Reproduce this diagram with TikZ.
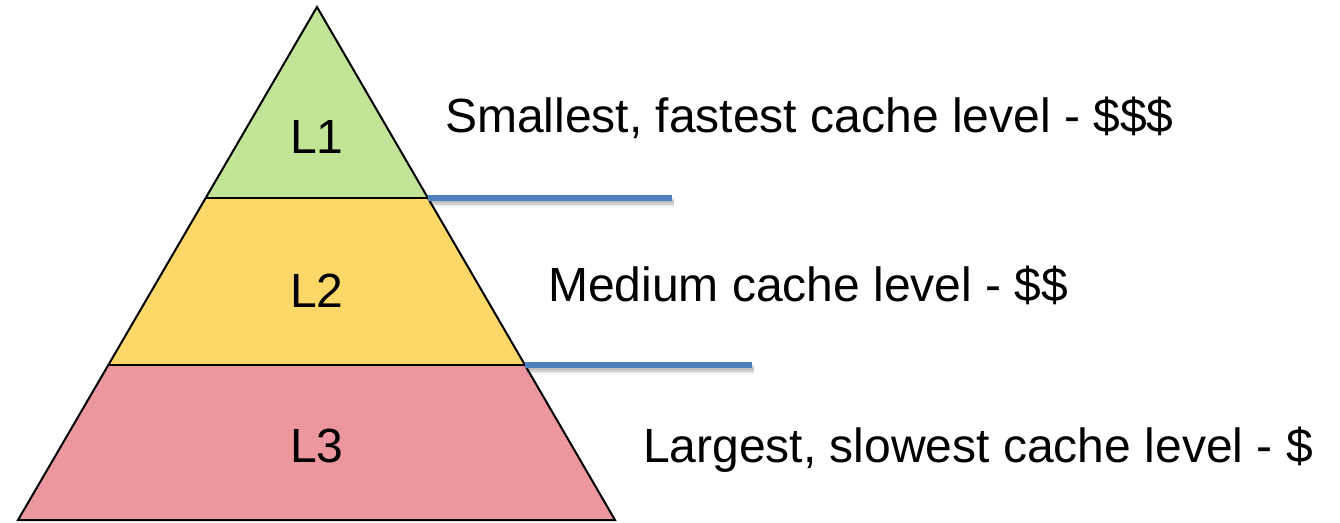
\documentclass[tikz,border=0pt]{standalone}
\usepackage{fontspec}
\setmainfont{Liberation Sans}
\definecolor{levelone}{RGB}{193,228,151}
\definecolor{leveltwo}{RGB}{253,216,104}
\definecolor{levelthree}{RGB}{236,150,158}
\definecolor{divider}{RGB}{79,129,189}
\begin{document}
\begin{tikzpicture}[x=1pt,y=-1pt,
  tier/.style={draw=black,line width=2pt,line join=miter},
  tiername/.style={anchor=base,inner sep=0pt,font=\fontsize{48}{58}\selectfont},
  caption/.style={anchor=base west,inner sep=0pt,font=\fontsize{48}{58}\selectfont},
  rule/.style={draw=divider,line width=5.5pt},
  ruleshade/.style={draw=black,line width=5pt}]
  \useasboundingbox (0,0) rectangle (1340,522);
  % pyramid corners and tier boundaries
  \coordinate (apex) at (317,7);
  \coordinate (bl) at (18,520);
  \coordinate (br) at (615,520);
  \coordinate (l12) at (206,198);
  \coordinate (r12) at (428,198);
  \coordinate (l23) at (109,365);
  \coordinate (r23) at (525,365);
  % tiers
  \path[fill=levelone] (apex) -- (r12) -- (l12) -- cycle;
  \path[fill=leveltwo] (l12) -- (r12) -- (r23) -- (l23) -- cycle;
  \path[fill=levelthree] (l23) -- (r23) -- (br) -- (bl) -- cycle;
  \draw[tier] (apex) -- (br) -- (bl) -- cycle;
  \draw[tier] (l12) -- (r12);
  \draw[tier] (l23) -- (r23);
  % tier names
  \node[tiername] (n1) at (317,153) {L1};
  \node[tiername] (n2) at (317,307) {L2};
  \node[tiername] (n3) at (317,462) {L3};
  % descriptions
  \node[caption] (d1) at (445,132) {Smallest, fastest cache level - \$\$\$};
  \node[caption] (d2) at (548,301) {Medium cache level - \$\$};
  \node[caption] (d3) at (643,462) {Largest, slowest cache level - \$};
  % divider lines with a soft shadow
  \coordinate (e12) at (672,198);
  \coordinate (e23) at (752,365);
  \foreach \dy/\op in {2.5/0.12,4/0.09,5.5/0.06,7/0.03} {
    \draw[ruleshade,opacity=\op] ([shift={(1,\dy)}]r12) -- ([shift={(2,\dy)}]e12);
    \draw[ruleshade,opacity=\op] ([shift={(1,\dy)}]r23) -- ([shift={(2,\dy)}]e23);
  }
  \draw[rule] (r12) -- (e12);
  \draw[rule] (r23) -- (e23);
\end{tikzpicture}
\end{document}
